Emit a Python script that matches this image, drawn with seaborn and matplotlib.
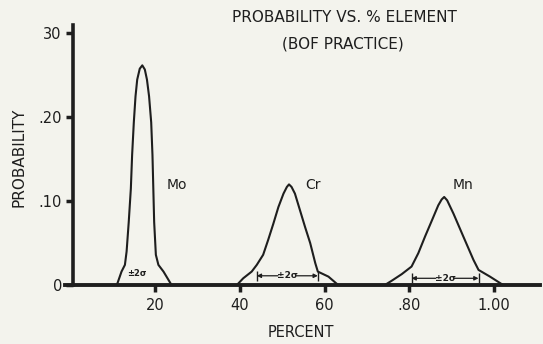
import matplotlib
matplotlib.use("Agg")
import matplotlib.pyplot as plt
import seaborn as sns
import pandas as pd

# curve points (x in percent, y = probability)
mo_x = [0.110, 0.121, 0.129, 0.133, 0.138, 0.143, 0.146, 0.150, 0.154, 0.158, 0.164, 0.170,
        0.176, 0.181, 0.186, 0.191, 0.194, 0.196, 0.198, 0.202, 0.208, 0.220, 0.239]
mo_y = [0.000, 0.016, 0.024, 0.040, 0.075, 0.115, 0.155, 0.194, 0.225, 0.245, 0.258, 0.262,
        0.257, 0.245, 0.225, 0.194, 0.155, 0.115, 0.075, 0.036, 0.024, 0.016, 0.000]

cr_x = [0.393, 0.408, 0.428, 0.440, 0.455, 0.467, 0.479, 0.491, 0.503, 0.511, 0.516,
        0.522, 0.530, 0.542, 0.554, 0.566, 0.578, 0.584, 0.609, 0.632]
cr_y = [0.000, 0.008, 0.016, 0.024, 0.036, 0.054, 0.073, 0.093, 0.109, 0.117, 0.120,
        0.117, 0.109, 0.089, 0.069, 0.050, 0.026, 0.016, 0.010, 0.000]

mn_x = [0.742, 0.758, 0.782, 0.805, 0.821, 0.837, 0.853, 0.868, 0.876, 0.882,
        0.889, 0.904, 0.927, 0.951, 0.963, 0.990, 1.021]
mn_y = [0.000, 0.005, 0.013, 0.022, 0.038, 0.058, 0.077, 0.095, 0.102, 0.105,
        0.101, 0.085, 0.058, 0.030, 0.018, 0.010, 0.000]

elements = ["Mo", "Cr", "Mn"]
label_x = [0.251, 0.573, 0.927]
label_y = 0.119

# +-2 sigma bands (start, end, height)
mo_band = (0.158, 0.014)
cr_band = (0.440, 0.584, 0.011)
mn_band = (0.805, 0.963, 0.008)

xticks = [0.2, 0.4, 0.6, 0.8, 1.0]
xticklabels = ["20", "40", "60", ".80", "1.00"]
yticks = [0.0, 0.1, 0.2, 0.3]
yticklabels = ["0", ".10", ".20", "30"]

df = pd.concat([
    pd.DataFrame({"pct": mo_x, "prob": mo_y, "element": "Mo"}),
    pd.DataFrame({"pct": cr_x, "prob": cr_y, "element": "Cr"}),
    pd.DataFrame({"pct": mn_x, "prob": mn_y, "element": "Mn"}),
])

bg = "#f3f3ed"
ink = "#1e1e1e"
sns.set_style("ticks")
plt.rcParams["font.family"] = ["DejaVu Sans"]

fig = plt.figure(figsize=(5.43, 3.44), dpi=100, facecolor=bg)
ax = fig.add_axes([0.1197, 0.1715, 0.8748, 0.7555])
ax.set_facecolor(bg)

sns.lineplot(data=df, x="pct", y="prob", hue="element", units="element", estimator=None,
             palette={e: ink for e in elements}, linewidth=1.5, legend=False, ax=ax)

ax.set_xlim(-0.0123, 1.108)
ax.set_ylim(0, 0.31)

# axes styling
sns.despine(ax=ax, top=True, right=True)
ax.spines["left"].set_position(("data", 0.0066))
ax.spines["left"].set_linewidth(2.6)
ax.spines["bottom"].set_linewidth(2.8)
ax.spines["left"].set_color(ink)
ax.spines["bottom"].set_color(ink)

ax.set_xticks(xticks)
ax.set_xticklabels(xticklabels)
ax.set_yticks(yticks)
ax.set_yticklabels(yticklabels)
ax.tick_params(axis="x", direction="out", length=5, width=2.5, pad=4, labelsize=10.5,
               colors=ink)
ax.tick_params(axis="y", direction="out", length=5, width=2.5, pad=3, labelsize=10.5,
               colors=ink)

ax.set_xlabel("")
ax.set_ylabel("")
ax.text(0.497, -0.181, "PERCENT", transform=ax.transAxes, ha="center", va="center",
        fontsize=10.5, color=ink)
ax.text(-0.097, 0.49, "PROBABILITY", transform=ax.transAxes, ha="center", va="center",
        rotation=90, fontsize=11, color=ink)

# titles
fig.text(0.635, 0.949, "PROBABILITY VS. % ELEMENT", ha="center", va="center",
         fontsize=11, color=ink)
fig.text(0.632, 0.873, "(BOF PRACTICE)", ha="center", va="center",
         fontsize=11, color=ink)

# element labels
for name, lx in zip(elements, label_x):
    ax.text(lx, label_y, name, ha="center", va="center", fontsize=10, color=ink)

# +-2 sigma markers
ax.text(mo_band[0], mo_band[1], "±2σ", ha="center", va="center", fontsize=6,
        fontweight="bold", color=ink)
for x0, x1, yb in [cr_band, mn_band]:
    xc = (x0 + x1) / 2
    ax.text(xc, yb, "±2σ", ha="center", va="center", fontsize=6.5,
            fontweight="bold", color=ink)
    ax.annotate("", xy=(x0, yb), xytext=(xc - 0.022, yb),
                arrowprops=dict(arrowstyle="-|>", color=ink, lw=0.9,
                                mutation_scale=6, shrinkA=0, shrinkB=0))
    ax.annotate("", xy=(x1, yb), xytext=(xc + 0.022, yb),
                arrowprops=dict(arrowstyle="-|>", color=ink, lw=0.9,
                                mutation_scale=6, shrinkA=0, shrinkB=0))
    ax.vlines([x0, x1], yb - 0.006, yb + 0.006, color=ink, lw=1.0)

fig.savefig("out.png", dpi=100, facecolor=bg)
